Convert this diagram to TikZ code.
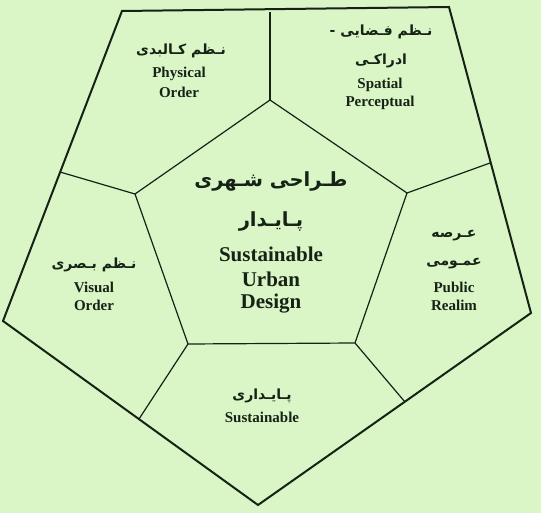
\documentclass[tikz,border=0pt]{standalone}
\usepackage{fontspec}
\setmainfont{Liberation Serif}
\newfontfamily\arabicfont[Script=Arabic]{DejaVu Sans}
\TeXXeTstate=1
\definecolor{bggreen}{RGB}{218,246,198}
\definecolor{inkgreen}{RGB}{22,34,22}

\begin{document}
\begin{tikzpicture}[x=1pt,y=-1pt,
    outer/.style={line width=2pt, draw=inkgreen, line join=miter},
    inner/.style={line width=1.2pt, draw=inkgreen},
    en/.style={font=\bfseries\fontsize{15}{17}\selectfont, text=inkgreen},
    enbig/.style={font=\bfseries\fontsize{21}{24}\selectfont, text=inkgreen},
    fa/.style={font=\arabicfont\bfseries\fontsize{14}{16}\selectfont, text=inkgreen},
    fabig/.style={font=\arabicfont\bfseries\fontsize{19.5}{22}\selectfont, text=inkgreen}]
            \fill[bggreen] (0,0) rectangle (541,513);
            \useasboundingbox (0,0) rectangle (541,513);
            % outer pentagon
            \coordinate (OTL) at (122,11);
            \coordinate (OTR) at (449,7);
            \coordinate (OR) at (531,313);
            \coordinate (OB) at (258,505);
            \coordinate (OL) at (3,321);
            % inner pentagon
            \coordinate (IT) at (270,100);
            \coordinate (IR) at (407,193);
            \coordinate (IBR) at (355,343);
            \coordinate (IBL) at (188,344);
            \coordinate (IL) at (135,194);
            % spoke ends on the outer edges
            \coordinate (ST) at (270,12);
            \coordinate (SR) at (490,163);
            \coordinate (SBR) at (405,402);
            \coordinate (SBL) at (139,419);
            \coordinate (SL) at (60,172);
            \draw[inner] (IT) -- (IR) -- (IBR) -- (IBL) -- (IL) -- cycle;
            \draw[inner] (IT) -- (ST);
            \draw[inner] (IR) -- (SR);
            \draw[inner] (IBR) -- (SBR);
            \draw[inner] (IBL) -- (SBL);
            \draw[inner] (IL) -- (SL);
            \draw[outer] (OTL) -- (OTR) -- (OR) -- (OB) -- (OL) -- cycle;
            % centre
            \node[fabig] (c1) at (271,181) {\beginR طـراحی شـهری\endR};
            \node[fabig] (c2) at (271,221) {\beginR پـایـدار\endR};
            \node[enbig] (c3) at (271,254) {Sustainable};
            \node[enbig] (c4) at (271,279) {Urban};
            \node[enbig] (c5) at (271,304) {Design};
            % physical order
            \node[fa] (p1) at (181,51) {\beginR نـظم کـالبدی\endR};
            \node[en] (p2) at (179,74) {Physical};
            \node[en] (p3) at (179,92) {Order};
            % spatial perceptual
            \node[fa] (s1) at (381,32) {\beginR نـظم فـضایی -\endR};
            \node[fa] (s2) at (381,61) {\beginR ادراکـی\endR};
            \node[en] (s3) at (380,85) {Spatial};
            \node[en] (s4) at (380,103) {Perceptual};
            % public realim
            \node[fa] (r1) at (454,236) {\beginR عـرصه\endR};
            \node[fa] (r2) at (454,264) {\beginR عمـومی\endR};
            \node[en] (r3) at (454,287) {Public};
            \node[en] (r4) at (454,305) {Realim};
            % visual order
            \node[fa] (v1) at (94,265) {\beginR نـظم بـصری\endR};
            \node[en] (v2) at (94,287) {Visual};
            \node[en] (v3) at (94,305) {Order};
            % sustainable
            \node[fa] (b1) at (262,396) {\beginR پـایـداری\endR};
            \node[en] (b2) at (262,417) {Sustainable};
        \end{tikzpicture}
\end{document}
